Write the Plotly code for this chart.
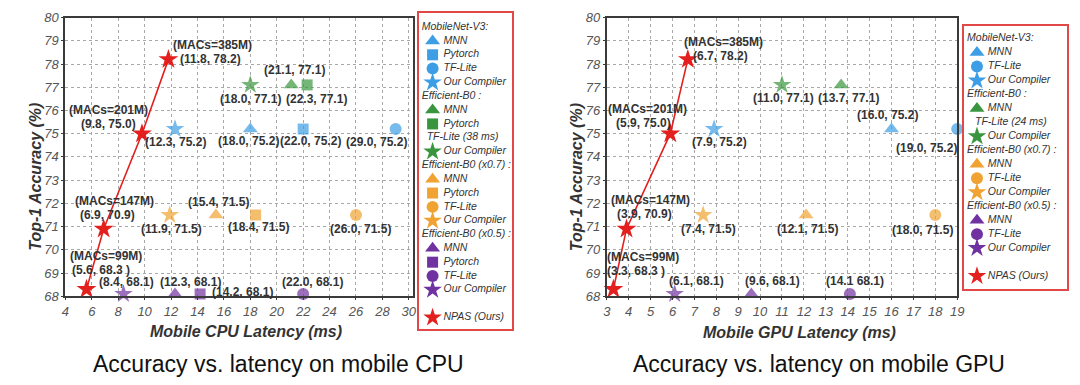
import plotly.graph_objects as go

# ---------------- DATA ----------------
# Mobile CPU
cpu_mbv3_fw = ["MNN", "Pytorch", "TF-Lite", "Our Compiler"]
cpu_mbv3_lat = [18.0, 22.0, 29.0, 12.3]
cpu_mbv3_acc = [75.2, 75.2, 75.2, 75.2]
cpu_mbv3_lbl = ["(18.0, 75.2)", "(22.0, 75.2)", "(29.0, 75.2)", "(12.3, 75.2)"]

cpu_b0_fw = ["MNN", "Pytorch", "Our Compiler"]
cpu_b0_lat = [21.1, 22.3, 18.0]
cpu_b0_acc = [77.1, 77.1, 77.1]
cpu_b0_lbl = ["(21.1, 77.1)", "(22.3, 77.1)", "(18.0, 77.1)"]
cpu_b0_note = "TF-Lite (38 ms)"

cpu_b07_fw = ["MNN", "Pytorch", "TF-Lite", "Our Compiler"]
cpu_b07_lat = [15.4, 18.4, 26.0, 11.9]
cpu_b07_acc = [71.5, 71.5, 71.5, 71.5]
cpu_b07_lbl = ["(15.4, 71.5)", "(18.4, 71.5)", "(26.0, 71.5)", "(11.9, 71.5)"]

cpu_b05_fw = ["MNN", "Pytorch", "TF-Lite", "Our Compiler"]
cpu_b05_lat = [12.3, 14.2, 22.0, 8.4]
cpu_b05_acc = [68.1, 68.1, 68.1, 68.1]
cpu_b05_lbl = ["(12.3, 68.1)", "(14.2, 68.1)", "(22.0, 68.1)", "(8.4, 68.1)"]

npas_macs = ["(MACs=99M)", "(MACs=147M)", "(MACs=201M)", "(MACs=385M)"]
cpu_npas_lat = [5.6, 6.9, 9.8, 11.8]
cpu_npas_acc = [68.3, 70.9, 75.0, 78.2]
cpu_npas_lbl = ["(5.6, 68.3 )", "(6.9, 70.9)", "(9.8, 75.0)", "(11.8, 78.2)"]

# Mobile GPU
gpu_mbv3_fw = ["MNN", "TF-Lite", "Our Compiler"]
gpu_mbv3_lat = [16.0, 19.0, 7.9]
gpu_mbv3_acc = [75.2, 75.2, 75.2]
gpu_mbv3_lbl = ["(16.0, 75.2)", "(19.0, 75.2)", "(7.9, 75.2)"]

gpu_b0_fw = ["MNN", "Our Compiler"]
gpu_b0_lat = [13.7, 11.0]
gpu_b0_acc = [77.1, 77.1]
gpu_b0_lbl = ["(13.7, 77.1)", "(11.0, 77.1)"]
gpu_b0_note = "TF-Lite (24 ms)"

gpu_b07_fw = ["MNN", "TF-Lite", "Our Compiler"]
gpu_b07_lat = [12.1, 18.0, 7.4]
gpu_b07_acc = [71.5, 71.5, 71.5]
gpu_b07_lbl = ["(12.1, 71.5)", "(18.0, 71.5)", "(7.4, 71.5)"]

gpu_b05_fw = ["MNN", "TF-Lite", "Our Compiler"]
gpu_b05_lat = [9.6, 14.1, 6.1]
gpu_b05_acc = [68.1, 68.1, 68.1]
gpu_b05_lbl = ["(9.6, 68.1)", "(14.1 68.1)", "(6.1, 68.1)"]

gpu_npas_lat = [3.3, 3.9, 5.9, 6.7]
gpu_npas_acc = [68.3, 70.9, 75.0, 78.2]
gpu_npas_lbl = ["(3.3, 68.3 )", "(3.9, 70.9)", "(5.9, 75.0)", "(6.7, 78.2)"]

group_titles = ["MobileNet-V3:", "Efficient-B0 :", "Efficient-B0 (x0.7) :", "Efficient-B0 (x0.5) :"]
npas_name = "NPAS (Ours)"
y_ticks = [68, 69, 70, 71, 72, 73, 74, 75, 76, 77, 78, 79, 80]
cpu_x_ticks = [4, 6, 8, 10, 12, 14, 16, 18, 20, 22, 24, 26, 28, 30]
gpu_x_ticks = [3, 4, 5, 6, 7, 8, 9, 10, 11, 12, 13, 14, 15, 16, 17, 18, 19]

# ---------------- STYLE ----------------
COLORS = ["#3d9ee6", "#3a963e", "#f0a232", "#7032a0"]
RED = "#e3201e"
SYMBOL = {"MNN": "triangle-up", "Pytorch": "square", "TF-Lite": "circle", "Our Compiler": "star"}
MSIZE = {"MNN": 13, "Pytorch": 11, "TF-Lite": 12, "Our Compiler": 14}
LBL_FONT = dict(family="Liberation Sans", size=12, color="#333333", weight="bold")
LEG_FONT = dict(family="Liberation Sans", size=10.5, color="#333333", style="italic")

# label offsets (pixels, right / down) per point
cpu_off = [
    [(-2, 12), (7, 12), (-19, 13), (0, 13)],
    [(3, -15), (9, 14), (0, 14)],
    [(3, -13), (3, 12), (5, 14), (2, 14)],
    [(15, -12), (42, -2), (9, -12), (3, -12)],
]
# (macs line offset, coordinate line offset)
cpu_npas_off = [((19, -33), (14, -19)), ((11, -28), (4, -14)),
                ((-33, -24), (-33, -10)), ((44, -14), (42, 0))]
gpu_off = [
    [(-4, -14), (-31, 19), (5, 13)],
    [(7, 13), (2, 13)],
    [(1, 14), (-13, 15), (5, 14)],
    [(21, -13), (5, -13), (22, -13)],
]
gpu_npas_off = [((30, -32), (23, -18)), ((24, -29), (18, -15)),
                ((-23, -25), (-27, -11)), ((36, -17), (33, -3))]

fig = go.Figure()
annotations = []


def label(x, y, t, off, xa, ya):
    dx, dy = off
    annotations.append(dict(x=x, y=y, xref=xa, yref=ya, text=t, showarrow=False,
                            xanchor="center", yanchor="middle", borderpad=0,
                            xshift=dx, yshift=-dy, font=LBL_FONT))


def add_panel(groups, npas_lat, npas_acc, npas_lbl, offsets, npas_off, xa, ya):
    for gi, (fw, lat, acc, lbl) in enumerate(groups):
        fig.add_trace(go.Scatter(
            x=lat, y=acc, mode="markers", xaxis=xa, yaxis=ya, showlegend=False,
            cliponaxis=False, hoverinfo="skip",
            marker=dict(symbol=[SYMBOL[f] for f in fw], size=[MSIZE[f] for f in fw],
                        color=COLORS[gi], line=dict(width=0))))
        for x, y, t, off in zip(lat, acc, lbl, offsets[gi]):
            label(x, y, t, off, xa, ya)
    fig.add_trace(go.Scatter(
        x=npas_lat, y=npas_acc, mode="lines+markers", xaxis=xa, yaxis=ya, showlegend=False,
        cliponaxis=False, hoverinfo="skip", line=dict(color=RED, width=1.6),
        marker=dict(symbol="star", size=15, color=RED)))
    for x, y, m, t, (off_m, off_t) in zip(npas_lat, npas_acc, npas_macs, npas_lbl, npas_off):
        label(x, y, m, off_m, xa, ya)
        label(x, y, t, off_t, xa, ya)


add_panel([(cpu_mbv3_fw, cpu_mbv3_lat, cpu_mbv3_acc, cpu_mbv3_lbl),
           (cpu_b0_fw, cpu_b0_lat, cpu_b0_acc, cpu_b0_lbl),
           (cpu_b07_fw, cpu_b07_lat, cpu_b07_acc, cpu_b07_lbl),
           (cpu_b05_fw, cpu_b05_lat, cpu_b05_acc, cpu_b05_lbl)],
          cpu_npas_lat, cpu_npas_acc, cpu_npas_lbl, cpu_off, cpu_npas_off, "x", "y")
add_panel([(gpu_mbv3_fw, gpu_mbv3_lat, gpu_mbv3_acc, gpu_mbv3_lbl),
           (gpu_b0_fw, gpu_b0_lat, gpu_b0_acc, gpu_b0_lbl),
           (gpu_b07_fw, gpu_b07_lat, gpu_b07_acc, gpu_b07_lbl),
           (gpu_b05_fw, gpu_b05_lat, gpu_b05_acc, gpu_b05_lbl)],
          gpu_npas_lat, gpu_npas_acc, gpu_npas_lbl, gpu_off, gpu_npas_off, "x2", "y2")


def add_legend(fw_lists, note, xa, ya, title_x, marker_x, text_x, note_x):
    rows_text, rows_tx, rows_y = [], [], []
    row = 0
    for gi, fw in enumerate(fw_lists):
        rows_text.append(group_titles[gi]); rows_tx.append(title_x); rows_y.append(row)
        row += 1
        for f in fw:
            if gi == 1 and f == "Our Compiler":
                rows_text.append(note); rows_tx.append(note_x); rows_y.append(row)
                row += 1
            fig.add_trace(go.Scatter(
                x=[marker_x], y=[row], mode="markers", xaxis=xa, yaxis=ya, showlegend=False,
                cliponaxis=False, hoverinfo="skip",
                marker=dict(symbol=SYMBOL[f], size=MSIZE[f], color=COLORS[gi])))
            rows_text.append(f); rows_tx.append(text_x); rows_y.append(row)
            row += 1
    row += 1
    fig.add_trace(go.Scatter(x=[marker_x], y=[row], mode="markers", xaxis=xa, yaxis=ya,
                             showlegend=False, cliponaxis=False, hoverinfo="skip",
                             marker=dict(symbol="star", size=14, color=RED)))
    rows_text.append(npas_name); rows_tx.append(text_x); rows_y.append(row)
    fig.add_trace(go.Scatter(x=rows_tx, y=rows_y, text=rows_text, mode="text",
                             textposition="middle right", xaxis=xa, yaxis=ya,
                             showlegend=False, cliponaxis=False, hoverinfo="skip",
                             textfont=LEG_FONT))
    return row


add_legend([cpu_mbv3_fw, cpu_b0_fw, cpu_b07_fw, cpu_b05_fw], cpu_b0_note, "x3", "y3",
           3, 14, 25, 8)
add_legend([gpu_mbv3_fw, gpu_b0_fw, gpu_b07_fw, gpu_b05_fw], gpu_b0_note, "x4", "y4",
           3, 13, 24, 11)

TICK_FONT = dict(family="Liberation Sans", size=13, color="#555555", style="italic")
axis_common = dict(showline=True, mirror=True, linecolor="#3a3a3a", linewidth=2,
                   showgrid=True, gridcolor="#a8a8a8", griddash="dot", gridwidth=1,
                   zeroline=False, ticks="outside", ticklen=2, tickcolor="#3a3a3a",
                   tickfont=TICK_FONT, fixedrange=True)
leg_axis = dict(showline=True, mirror=True, linecolor="#e34848", linewidth=1.5,
                showgrid=False, zeroline=False, showticklabels=False, ticks="",
                fixedrange=True)

W, H = 1080, 385


def px(v):
    return v / W


def py(v):
    return 1 - v / H


fig.update_layout(
    width=W, height=H, margin=dict(l=0, r=0, t=0, b=0),
    paper_bgcolor="white", plot_bgcolor="white", showlegend=False,
    xaxis=dict(domain=[px(62), px(413)], range=[4, 30.3], tickvals=cpu_x_ticks,
               anchor="y", **axis_common),
    yaxis=dict(domain=[py(301), py(11)], range=[68, 80], tickvals=y_ticks,
               anchor="x", **axis_common),
    xaxis2=dict(domain=[px(609), px(963)], range=[3, 19], tickvals=gpu_x_ticks,
                anchor="y2", **axis_common),
    yaxis2=dict(domain=[py(301), py(11)], range=[68, 80], tickvals=y_ticks,
                anchor="x2", **axis_common),
    xaxis3=dict(domain=[px(419), px(513)], range=[0, 94], anchor="y3", **leg_axis),
    yaxis3=dict(domain=[py(335), py(6)], range=[21.83, -1.04], anchor="x3", **leg_axis),
    xaxis4=dict(domain=[px(970), px(1074)], range=[0, 104], anchor="y4", **leg_axis),
    yaxis4=dict(domain=[py(293), py(20)], range=[17.9, -0.89], anchor="x4", **leg_axis),
)

TITLE_FONT = dict(family="Liberation Sans", size=16, color="#333333", weight="bold", style="italic")
CAP_FONT = dict(family="Liberation Sans", size=23, color="#111111")


def paper_note(x, y, text, font, angle=0):
    return dict(x=px(x), y=py(y), xref="paper", yref="paper", text=text, showarrow=False,
                xanchor="center", yanchor="middle", textangle=angle, font=font)


annotations += [
    paper_note(244, 338, "Mobile CPU Latency (ms)", TITLE_FONT),
    paper_note(804, 339, "Mobile GPU Latency (ms)", TITLE_FONT),
    paper_note(31, 177, "Top-1 Accuracy (%)", TITLE_FONT, -90),
    paper_note(578, 177, "Top-1 Accuracy (%)", TITLE_FONT, -90),
    paper_note(277, 371, "Accuracy vs. latency on mobile CPU", CAP_FONT),
    paper_note(823, 371, "Accuracy vs. latency on mobile GPU", CAP_FONT),
]
fig.update_layout(annotations=annotations)

fig.write_html("out.html", config={"displayModeBar": False},
               post_script="document.body.style.margin='0';")
